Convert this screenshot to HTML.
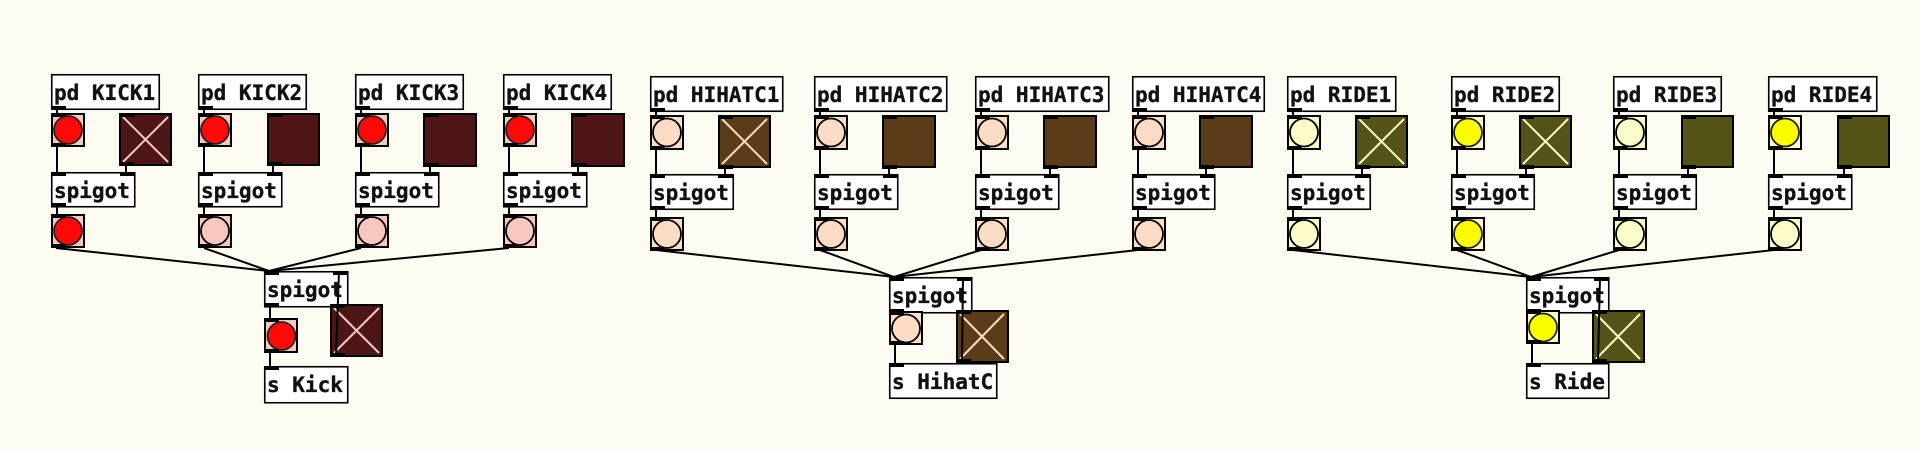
<!DOCTYPE html>
<html>
<head>
<meta charset="utf-8">
<style>
html,body{margin:0;padding:0;width:1920px;height:450px;overflow:hidden;background:#fcfcf3;}
svg{display:block;}
text{font-family:"DejaVu Sans Mono","Liberation Mono",monospace;font-weight:bold;font-size:21px;fill:#111;stroke:#111;stroke-width:0.35px;}
.o{fill:#fff;stroke:#000;stroke-width:1.6;}
.io{fill:#000;}
.c{stroke:#000;stroke-width:2;fill:none;}
.kb{fill:#f8c8c0;stroke:#000;stroke-width:2;}
.hb{fill:#fcdcc4;stroke:#000;stroke-width:2;}
.rb{fill:#fcfcc8;stroke:#000;stroke-width:2;}
.kt{fill:#4c1616;stroke:#000;stroke-width:2;}
.ht{fill:#5a3c18;stroke:#000;stroke-width:2;}
.rt{fill:#545418;stroke:#000;stroke-width:2;}
.kx{stroke:#f8c8c0;stroke-width:2;fill:none;}
.hx{stroke:#fcdcc4;stroke-width:2;fill:none;}
.rx{stroke:#fcfcc8;stroke-width:2;fill:none;}
.cr{fill:#fc0a0a;stroke:#222;stroke-width:1.8;}
.cy{fill:#fcfc00;stroke:#222;stroke-width:1.8;}
.ck{fill:#f8c8c0;stroke:#000;stroke-width:1.8;}
.ch{fill:#fcdcc4;stroke:#000;stroke-width:1.8;}
.cl{fill:#fcfcc8;stroke:#000;stroke-width:1.8;}
</style>
</head>
<body>
<svg width="1920" height="450" viewBox="0 0 1920 450" xmlns="http://www.w3.org/2000/svg">

<!-- ================= KICK ================= -->
<!-- KICK1 -->
<g transform="translate(51,74)">
<rect class="o" x="0.75" y="0.75" width="107.5" height="34.5"/>
<text x="3" y="26">pd KICK1</text>
<rect class="io" x="0" y="32" width="15" height="4"/>
<line class="c" x1="6" y1="35" x2="6" y2="40"/>
<rect class="kb" x="1" y="40" width="32" height="32"/>
<circle class="cr" cx="17" cy="56" r="14"/>
<rect class="io" x="0" y="39" width="15" height="4"/>
<rect class="io" x="0" y="69" width="15" height="4"/>
<line class="c" x1="6" y1="73" x2="6" y2="98"/>
<rect class="kt" x="69" y="40" width="51" height="51"/>
<path class="kx" d="M72 43L117 88M117 43L72 88"/>
<rect class="io" x="68" y="39" width="15" height="4"/>
<rect class="io" x="68" y="88" width="15" height="4"/>
<line class="c" x1="75" y1="92" x2="75" y2="98"/>
<rect class="o" x="0.75" y="98.75" width="83" height="34"/>
<text x="3" y="124">spigot</text>
<rect class="io" x="0" y="98" width="15" height="4"/>
<rect class="io" x="69" y="98" width="15" height="4"/>
<rect class="io" x="0" y="129" width="15" height="4"/>
<line class="c" x1="6" y1="133" x2="6" y2="140"/>
<rect class="kb" x="1" y="141" width="32" height="32"/>
<circle class="cr" cx="17" cy="157" r="14"/>
<rect class="io" x="0" y="140" width="15" height="4"/>
<rect class="io" x="0" y="170" width="15" height="4"/>
</g>
<!-- KICK2 -->
<g transform="translate(198,74)">
<rect class="o" x="0.75" y="0.75" width="107.5" height="34.5"/>
<text x="3" y="26">pd KICK2</text>
<rect class="io" x="0" y="32" width="15" height="4"/>
<line class="c" x1="6" y1="35" x2="6" y2="40"/>
<rect class="kb" x="1" y="40" width="32" height="32"/>
<circle class="cr" cx="17" cy="56" r="14"/>
<rect class="io" x="0" y="39" width="15" height="4"/>
<rect class="io" x="0" y="69" width="15" height="4"/>
<line class="c" x1="6" y1="73" x2="6" y2="98"/>
<rect class="kt" x="70" y="40" width="51" height="51"/>
<rect class="io" x="69" y="39" width="15" height="4"/>
<rect class="io" x="69" y="88" width="15" height="4"/>
<line class="c" x1="75" y1="92" x2="75" y2="98"/>
<rect class="o" x="0.75" y="98.75" width="83" height="34"/>
<text x="3" y="124">spigot</text>
<rect class="io" x="0" y="98" width="15" height="4"/>
<rect class="io" x="69" y="98" width="15" height="4"/>
<rect class="io" x="0" y="129" width="15" height="4"/>
<line class="c" x1="6" y1="133" x2="6" y2="140"/>
<rect class="kb" x="1" y="141" width="32" height="32"/>
<circle class="ck" cx="17" cy="157" r="14"/>
<rect class="io" x="0" y="140" width="15" height="4"/>
<rect class="io" x="0" y="170" width="15" height="4"/>
</g>
<!-- KICK3 -->
<g transform="translate(355,74)">
<rect class="o" x="0.75" y="0.75" width="107.5" height="34.5"/>
<text x="3" y="26">pd KICK3</text>
<rect class="io" x="0" y="32" width="15" height="4"/>
<line class="c" x1="6" y1="35" x2="6" y2="40"/>
<rect class="kb" x="1" y="40" width="32" height="32"/>
<circle class="cr" cx="17" cy="56" r="14"/>
<rect class="io" x="0" y="39" width="15" height="4"/>
<rect class="io" x="0" y="69" width="15" height="4"/>
<line class="c" x1="6" y1="73" x2="6" y2="98"/>
<rect class="kt" x="69" y="40" width="52" height="52"/>
<rect class="io" x="68" y="39" width="15" height="4"/>
<rect class="io" x="68" y="89" width="15" height="4"/>
<line class="c" x1="75" y1="93" x2="75" y2="98"/>
<rect class="o" x="0.75" y="98.75" width="83" height="34"/>
<text x="3" y="124">spigot</text>
<rect class="io" x="0" y="98" width="15" height="4"/>
<rect class="io" x="69" y="98" width="15" height="4"/>
<rect class="io" x="0" y="129" width="15" height="4"/>
<line class="c" x1="6" y1="133" x2="6" y2="140"/>
<rect class="kb" x="1" y="141" width="32" height="32"/>
<circle class="ck" cx="17" cy="157" r="14"/>
<rect class="io" x="0" y="140" width="15" height="4"/>
<rect class="io" x="0" y="170" width="15" height="4"/>
</g>
<!-- KICK4 -->
<g transform="translate(503,74)">
<rect class="o" x="0.75" y="0.75" width="107.5" height="34.5"/>
<text x="3" y="26">pd KICK4</text>
<rect class="io" x="0" y="32" width="15" height="4"/>
<line class="c" x1="6" y1="35" x2="6" y2="40"/>
<rect class="kb" x="1" y="40" width="32" height="32"/>
<circle class="cr" cx="17" cy="56" r="14"/>
<rect class="io" x="0" y="39" width="15" height="4"/>
<rect class="io" x="0" y="69" width="15" height="4"/>
<line class="c" x1="6" y1="73" x2="6" y2="98"/>
<rect class="kt" x="69" y="40" width="52" height="52"/>
<rect class="io" x="68" y="39" width="15" height="4"/>
<rect class="io" x="68" y="89" width="15" height="4"/>
<line class="c" x1="75" y1="93" x2="75" y2="98"/>
<rect class="o" x="0.75" y="98.75" width="83" height="34"/>
<text x="3" y="124">spigot</text>
<rect class="io" x="0" y="98" width="15" height="4"/>
<rect class="io" x="69" y="98" width="15" height="4"/>
<rect class="io" x="0" y="129" width="15" height="4"/>
<line class="c" x1="6" y1="133" x2="6" y2="140"/>
<rect class="kb" x="1" y="141" width="32" height="32"/>
<circle class="ck" cx="17" cy="157" r="14"/>
<rect class="io" x="0" y="140" width="15" height="4"/>
<rect class="io" x="0" y="170" width="15" height="4"/>
</g>

<!-- KICK bottom -->
<rect class="o" x="264.75" y="271.75" width="83" height="35"/>
<text x="267" y="297">spigot</text>
<rect class="io" x="264" y="271" width="15" height="4"/>
<rect class="io" x="333" y="271" width="15" height="4"/>
<rect class="io" x="264" y="303" width="15" height="4"/>
<rect class="kt" x="331" y="305" width="51" height="51"/>
<path class="kx" d="M334 308L379 353M379 308L334 353"/>
<rect class="io" x="330" y="304" width="15" height="4"/>
<rect class="io" x="330" y="353" width="15" height="4"/>
<rect class="kb" x="265" y="319" width="32" height="33"/>
<circle class="cr" cx="281.5" cy="336" r="14"/>
<rect class="io" x="264" y="318" width="15" height="4"/>
<rect class="io" x="264" y="349" width="15" height="4"/>
<rect class="o" x="264.75" y="366.75" width="83" height="36"/>
<text x="267" y="392">s Kick</text>
<rect class="io" x="264" y="366" width="15" height="4"/>
<line class="c" x1="270" y1="307" x2="270" y2="318"/>
<line class="c" x1="270" y1="353" x2="270" y2="366"/>
<line class="c" x1="336" y1="357" x2="339" y2="271"/>
<!-- kick fan -->
<line class="c" x1="56" y1="248" x2="269" y2="271"/>
<line class="c" x1="204" y1="248" x2="269" y2="271"/>
<line class="c" x1="361" y1="248" x2="269" y2="271"/>
<line class="c" x1="509" y1="248" x2="269" y2="271"/>

<!-- ================= HIHAT ================= -->
<!-- HIHATC1 -->
<g transform="translate(650,76)">
<rect class="o" x="0.75" y="0.75" width="132" height="34.5"/>
<text x="3" y="26">pd HIHATC1</text>
<rect class="io" x="0" y="32" width="15" height="4"/>
<line class="c" x1="6" y1="35" x2="6" y2="40"/>
<rect class="hb" x="1" y="40" width="32" height="33"/>
<circle class="ch" cx="17" cy="56.5" r="14"/>
<rect class="io" x="0" y="39" width="15" height="4"/>
<rect class="io" x="0" y="70" width="15" height="4"/>
<line class="c" x1="6" y1="73" x2="6" y2="98"/>
<rect class="ht" x="69" y="40" width="51" height="51"/>
<path class="hx" d="M72 43L117 88M117 43L72 88"/>
<rect class="io" x="68" y="39" width="15" height="4"/>
<rect class="io" x="68" y="89" width="15" height="4"/>
<line class="c" x1="75" y1="93" x2="75" y2="98"/>
<rect class="o" x="0.75" y="98.75" width="82.5" height="34.5"/>
<text x="3" y="124">spigot</text>
<rect class="io" x="0" y="98" width="15" height="4"/>
<rect class="io" x="68" y="98" width="15" height="4"/>
<rect class="io" x="0" y="130" width="15" height="4"/>
<line class="c" x1="6" y1="134" x2="6" y2="141"/>
<rect class="hb" x="1" y="142" width="32" height="32"/>
<circle class="ch" cx="17" cy="158" r="14"/>
<rect class="io" x="0" y="141" width="15" height="4"/>
<rect class="io" x="0" y="171" width="15" height="4"/>
</g>
<!-- HIHATC2 -->
<g transform="translate(814,76)">
<rect class="o" x="0.75" y="0.75" width="132" height="34.5"/>
<text x="3" y="26">pd HIHATC2</text>
<rect class="io" x="0" y="32" width="15" height="4"/>
<line class="c" x1="6" y1="35" x2="6" y2="40"/>
<rect class="hb" x="1" y="40" width="32" height="33"/>
<circle class="ch" cx="17" cy="56.5" r="14"/>
<rect class="io" x="0" y="39" width="15" height="4"/>
<rect class="io" x="0" y="70" width="15" height="4"/>
<line class="c" x1="6" y1="73" x2="6" y2="98"/>
<rect class="ht" x="69" y="40" width="52" height="51"/>
<rect class="io" x="68" y="39" width="15" height="4"/>
<rect class="io" x="68" y="89" width="15" height="4"/>
<line class="c" x1="75" y1="93" x2="75" y2="98"/>
<rect class="o" x="0.75" y="98.75" width="83" height="34.5"/>
<text x="3" y="124">spigot</text>
<rect class="io" x="0" y="98" width="15" height="4"/>
<rect class="io" x="69" y="98" width="15" height="4"/>
<rect class="io" x="0" y="130" width="15" height="4"/>
<line class="c" x1="6" y1="134" x2="6" y2="141"/>
<rect class="hb" x="1" y="142" width="32" height="32"/>
<circle class="ch" cx="17" cy="158" r="14"/>
<rect class="io" x="0" y="141" width="15" height="4"/>
<rect class="io" x="0" y="171" width="15" height="4"/>
</g>
<!-- HIHATC3 -->
<g transform="translate(975,76)">
<rect class="o" x="0.75" y="0.75" width="133" height="34.5"/>
<text x="3" y="26">pd HIHATC3</text>
<rect class="io" x="0" y="32" width="15" height="4"/>
<line class="c" x1="6" y1="35" x2="6" y2="40"/>
<rect class="hb" x="1" y="40" width="32" height="33"/>
<circle class="ch" cx="17" cy="56.5" r="14"/>
<rect class="io" x="0" y="39" width="15" height="4"/>
<rect class="io" x="0" y="70" width="15" height="4"/>
<line class="c" x1="6" y1="73" x2="6" y2="98"/>
<rect class="ht" x="69" y="40" width="52" height="51"/>
<rect class="io" x="68" y="39" width="15" height="4"/>
<rect class="io" x="68" y="89" width="15" height="4"/>
<line class="c" x1="75" y1="93" x2="75" y2="98"/>
<rect class="o" x="0.75" y="98.75" width="83" height="34.5"/>
<text x="3" y="124">spigot</text>
<rect class="io" x="0" y="98" width="15" height="4"/>
<rect class="io" x="69" y="98" width="15" height="4"/>
<rect class="io" x="0" y="130" width="15" height="4"/>
<line class="c" x1="6" y1="134" x2="6" y2="141"/>
<rect class="hb" x="1" y="142" width="32" height="32"/>
<circle class="ch" cx="17" cy="158" r="14"/>
<rect class="io" x="0" y="141" width="15" height="4"/>
<rect class="io" x="0" y="171" width="15" height="4"/>
</g>
<!-- HIHATC4 -->
<g transform="translate(1132,76)">
<rect class="o" x="0.75" y="0.75" width="131.5" height="34.5"/>
<text x="3" y="26">pd HIHATC4</text>
<rect class="io" x="0" y="32" width="15" height="4"/>
<line class="c" x1="6" y1="35" x2="6" y2="40"/>
<rect class="hb" x="1" y="40" width="32" height="33"/>
<circle class="ch" cx="17" cy="56.5" r="14"/>
<rect class="io" x="0" y="39" width="15" height="4"/>
<rect class="io" x="0" y="70" width="15" height="4"/>
<line class="c" x1="6" y1="73" x2="6" y2="98"/>
<rect class="ht" x="68" y="40" width="52" height="51"/>
<rect class="io" x="67" y="39" width="15" height="4"/>
<rect class="io" x="67" y="89" width="15" height="4"/>
<line class="c" x1="74" y1="93" x2="74" y2="98"/>
<rect class="o" x="0.75" y="98.75" width="82" height="34.5"/>
<text x="3" y="124">spigot</text>
<rect class="io" x="0" y="98" width="15" height="4"/>
<rect class="io" x="68" y="98" width="15" height="4"/>
<rect class="io" x="0" y="130" width="15" height="4"/>
<line class="c" x1="6" y1="134" x2="6" y2="141"/>
<rect class="hb" x="1" y="142" width="32" height="32"/>
<circle class="ch" cx="17" cy="158" r="14"/>
<rect class="io" x="0" y="141" width="15" height="4"/>
<rect class="io" x="0" y="171" width="15" height="4"/>
</g>

<!-- HIHAT bottom -->
<rect class="o" x="889.75" y="277.75" width="82" height="35"/>
<text x="892" y="303">spigot</text>
<rect class="io" x="889" y="277" width="15" height="4"/>
<rect class="io" x="957" y="277" width="15" height="4"/>
<rect class="io" x="889" y="309" width="15" height="4"/>
<rect class="hb" x="890" y="312" width="32" height="32"/>
<circle class="ch" cx="906" cy="328.5" r="14"/>
<rect class="io" x="889" y="311" width="15" height="4"/>
<rect class="io" x="889" y="341" width="15" height="4"/>
<rect class="ht" x="957" y="311" width="51" height="51"/>
<path class="hx" d="M960 314L1004 359M1004 314L960 359"/>
<rect class="io" x="956" y="310" width="15" height="4"/>
<rect class="io" x="956" y="359" width="15" height="4"/>
<rect class="o" x="889.75" y="363.75" width="107" height="34.5"/>
<text x="892" y="389">s HihatC</text>
<rect class="io" x="889" y="363" width="15" height="4"/>
<line class="c" x1="895" y1="345" x2="895" y2="363"/>
<line class="c" x1="962" y1="363" x2="963" y2="277"/>
<!-- hihat fan -->
<line class="c" x1="656" y1="250" x2="894" y2="277"/>
<line class="c" x1="820" y1="250" x2="894" y2="277"/>
<line class="c" x1="981" y1="250" x2="894" y2="277"/>
<line class="c" x1="1138" y1="250" x2="894" y2="277"/>

<!-- ================= RIDE ================= -->
<!-- RIDE1 -->
<g transform="translate(1287,76)">
<rect class="o" x="0.75" y="0.75" width="108" height="34.5"/>
<text x="3" y="26">pd RIDE1</text>
<rect class="io" x="0" y="32" width="15" height="4"/>
<line class="c" x1="6" y1="35" x2="6" y2="40"/>
<rect class="rb" x="1" y="40" width="32" height="33"/>
<circle class="cl" cx="17" cy="56.5" r="14"/>
<rect class="io" x="0" y="39" width="15" height="4"/>
<rect class="io" x="0" y="70" width="15" height="4"/>
<line class="c" x1="6" y1="73" x2="6" y2="98"/>
<rect class="rt" x="69" y="40" width="51" height="51"/>
<path class="rx" d="M72 43L117 88M117 43L72 88"/>
<rect class="io" x="68" y="39" width="15" height="4"/>
<rect class="io" x="68" y="89" width="15" height="4"/>
<line class="c" x1="75" y1="93" x2="75" y2="98"/>
<rect class="o" x="0.75" y="98.75" width="82.5" height="34.5"/>
<text x="3" y="124">spigot</text>
<rect class="io" x="0" y="98" width="15" height="4"/>
<rect class="io" x="68" y="98" width="15" height="4"/>
<rect class="io" x="0" y="130" width="15" height="4"/>
<line class="c" x1="6" y1="134" x2="6" y2="141"/>
<rect class="rb" x="1" y="142" width="32" height="32"/>
<circle class="cl" cx="17" cy="158" r="14"/>
<rect class="io" x="0" y="141" width="15" height="4"/>
<rect class="io" x="0" y="171" width="15" height="4"/>
</g>
<!-- RIDE2 -->
<g transform="translate(1451,76)">
<rect class="o" x="0.75" y="0.75" width="107.5" height="34.5"/>
<text x="3" y="26">pd RIDE2</text>
<rect class="io" x="0" y="32" width="15" height="4"/>
<line class="c" x1="6" y1="35" x2="6" y2="40"/>
<rect class="rb" x="1" y="40" width="32" height="33"/>
<circle class="cy" cx="17" cy="56.5" r="14"/>
<rect class="io" x="0" y="39" width="15" height="4"/>
<rect class="io" x="0" y="70" width="15" height="4"/>
<line class="c" x1="6" y1="73" x2="6" y2="98"/>
<rect class="rt" x="69" y="40" width="51" height="51"/>
<path class="rx" d="M72 43L117 88M117 43L72 88"/>
<rect class="io" x="68" y="39" width="15" height="4"/>
<rect class="io" x="68" y="89" width="15" height="4"/>
<line class="c" x1="75" y1="93" x2="75" y2="98"/>
<rect class="o" x="0.75" y="98.75" width="82.5" height="34.5"/>
<text x="3" y="124">spigot</text>
<rect class="io" x="0" y="98" width="15" height="4"/>
<rect class="io" x="68" y="98" width="15" height="4"/>
<rect class="io" x="0" y="130" width="15" height="4"/>
<line class="c" x1="6" y1="134" x2="6" y2="141"/>
<rect class="rb" x="1" y="142" width="32" height="32"/>
<circle class="cy" cx="17" cy="158" r="14"/>
<rect class="io" x="0" y="141" width="15" height="4"/>
<rect class="io" x="0" y="171" width="15" height="4"/>
</g>
<!-- RIDE3 -->
<g transform="translate(1613,76)">
<rect class="o" x="0.75" y="0.75" width="107.5" height="34.5"/>
<text x="3" y="26">pd RIDE3</text>
<rect class="io" x="0" y="32" width="15" height="4"/>
<line class="c" x1="6" y1="35" x2="6" y2="40"/>
<rect class="rb" x="1" y="40" width="32" height="33"/>
<circle class="cl" cx="17" cy="56.5" r="14"/>
<rect class="io" x="0" y="39" width="15" height="4"/>
<rect class="io" x="0" y="70" width="15" height="4"/>
<line class="c" x1="6" y1="73" x2="6" y2="98"/>
<rect class="rt" x="69" y="40" width="51" height="51"/>
<rect class="io" x="68" y="39" width="15" height="4"/>
<rect class="io" x="68" y="89" width="15" height="4"/>
<line class="c" x1="75" y1="93" x2="75" y2="98"/>
<rect class="o" x="0.75" y="98.75" width="82.5" height="34.5"/>
<text x="3" y="124">spigot</text>
<rect class="io" x="0" y="98" width="15" height="4"/>
<rect class="io" x="68" y="98" width="15" height="4"/>
<rect class="io" x="0" y="130" width="15" height="4"/>
<line class="c" x1="6" y1="134" x2="6" y2="141"/>
<rect class="rb" x="1" y="142" width="32" height="32"/>
<circle class="cl" cx="17" cy="158" r="14"/>
<rect class="io" x="0" y="141" width="15" height="4"/>
<rect class="io" x="0" y="171" width="15" height="4"/>
</g>
<!-- RIDE4 -->
<g transform="translate(1768,76)">
<rect class="o" x="0.75" y="0.75" width="108" height="34.5"/>
<text x="3" y="26">pd RIDE4</text>
<rect class="io" x="0" y="32" width="15" height="4"/>
<line class="c" x1="6" y1="35" x2="6" y2="40"/>
<rect class="rb" x="1" y="40" width="32" height="33"/>
<circle class="cy" cx="17" cy="56.5" r="14"/>
<rect class="io" x="0" y="39" width="15" height="4"/>
<rect class="io" x="0" y="70" width="15" height="4"/>
<line class="c" x1="6" y1="73" x2="6" y2="98"/>
<rect class="rt" x="70" y="40" width="51" height="51"/>
<rect class="io" x="69" y="39" width="15" height="4"/>
<rect class="io" x="69" y="89" width="15" height="4"/>
<line class="c" x1="76" y1="93" x2="76" y2="98"/>
<rect class="o" x="0.75" y="98.75" width="83" height="34.5"/>
<text x="3" y="124">spigot</text>
<rect class="io" x="0" y="98" width="15" height="4"/>
<rect class="io" x="69" y="98" width="15" height="4"/>
<rect class="io" x="0" y="130" width="15" height="4"/>
<line class="c" x1="6" y1="134" x2="6" y2="141"/>
<rect class="rb" x="1" y="142" width="32" height="32"/>
<circle class="cl" cx="17" cy="158" r="14"/>
<rect class="io" x="0" y="141" width="15" height="4"/>
<rect class="io" x="0" y="171" width="15" height="4"/>
</g>

<!-- RIDE bottom -->
<rect class="o" x="1526.75" y="277.75" width="82" height="35"/>
<text x="1529" y="303">spigot</text>
<rect class="io" x="1526" y="277" width="15" height="4"/>
<rect class="io" x="1594" y="277" width="15" height="4"/>
<rect class="io" x="1526" y="309" width="15" height="4"/>
<rect class="rb" x="1527" y="311" width="32" height="32"/>
<circle class="cy" cx="1543" cy="327.5" r="14"/>
<rect class="io" x="1526" y="310" width="15" height="4"/>
<rect class="io" x="1526" y="340" width="15" height="4"/>
<rect class="rt" x="1593" y="311" width="51" height="51"/>
<path class="rx" d="M1596 314L1640 359M1640 314L1596 359"/>
<rect class="io" x="1592" y="310" width="15" height="4"/>
<rect class="io" x="1592" y="359" width="15" height="4"/>
<rect class="o" x="1526.75" y="363.75" width="82" height="34.5"/>
<text x="1529" y="389">s Ride</text>
<rect class="io" x="1526" y="363" width="15" height="4"/>
<line class="c" x1="1532" y1="344" x2="1532" y2="363"/>
<line class="c" x1="1598" y1="363" x2="1600" y2="277"/>
<!-- ride fan -->
<line class="c" x1="1293" y1="250" x2="1531" y2="277"/>
<line class="c" x1="1457" y1="250" x2="1531" y2="277"/>
<line class="c" x1="1619" y1="250" x2="1531" y2="277"/>
<line class="c" x1="1774" y1="250" x2="1531" y2="277"/>

</svg>
</body>
</html>
